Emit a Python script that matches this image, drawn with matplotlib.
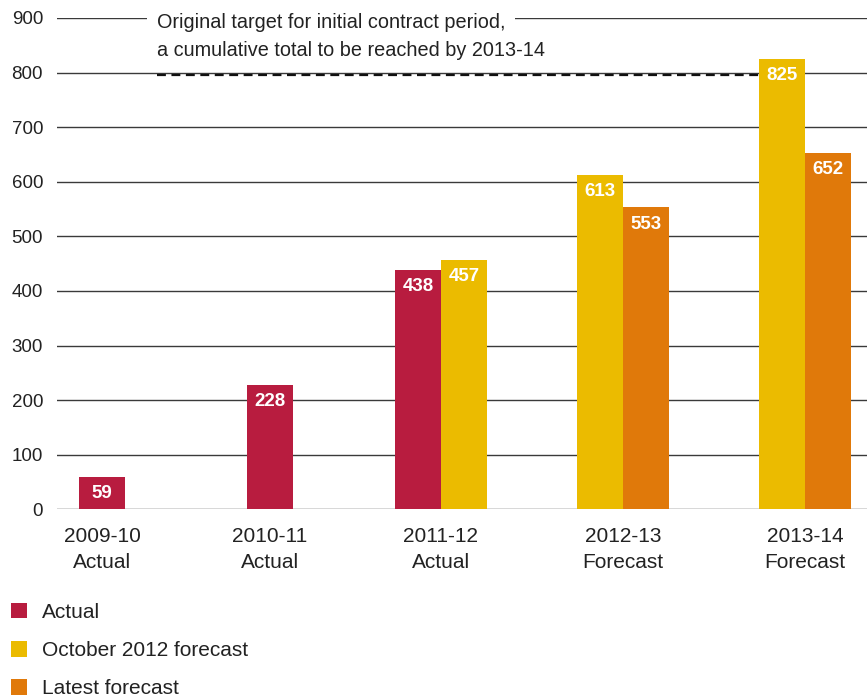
import matplotlib
matplotlib.use("Agg")
import matplotlib.pyplot as plt
from matplotlib.patches import Patch

# Cumulative totals per financial year
years = ["2009-10", "2010-11", "2011-12", "2012-13", "2013-14"]
status = ["Actual", "Actual", "Actual", "Forecast", "Forecast"]
actual = [59, 228, 438, None, None]
oct_2012_forecast = [None, None, 457, 613, 825]
latest_forecast = [None, None, None, 553, 652]
target = 796
target_note = ["Original target for initial contract period,",
               "a cumulative total to be reached by 2013-14"]
y_ticks = [0, 100, 200, 300, 400, 500, 600, 700, 800, 900]

series = [
    ("Actual", actual, "#B81C3F"),
    ("October 2012 forecast", oct_2012_forecast, "#EBBB00"),
    ("Latest forecast", latest_forecast, "#E0790A"),
]

plt.rcParams["font.family"] = ["Liberation Sans", "DejaVu Sans"]
text_col = "#222222"
grid_col = "#3a3a3a"

W, H = 867, 695
fig = plt.figure(figsize=(W / 100, H / 100), dpi=100)
ax = fig.add_axes([57 / W, (H - 509.3) / H, 810 / W, 491.4 / H])

# layout in pixel-like units along x
ax.set_xlim(0, 810)
ax.set_ylim(0, 900)
group_x = [45, 213, 384, 566, 748]
bar_w = 46

for i, gx in enumerate(group_x):
    present = [(name, vals[i], col) for name, vals, col in series if vals[i] is not None]
    n = len(present)
    for k, (name, v, col) in enumerate(present):
        x = gx + (k - (n - 1) / 2) * bar_w
        ax.bar(x, v, width=bar_w, color=col, zorder=3)
        ax.annotate(f"{v}", (x, v), xytext=(0, -12), textcoords="offset points",
                    ha="center", va="center", color="white", fontsize=13.5,
                    fontweight="bold", zorder=4)

# target line and its note (first line blanks out the top gridline)
ax.hlines(target, 100, group_x[4] - bar_w, colors="#111111", linestyles=(0, (4, 2.5)),
          linewidth=1.6, zorder=2)
ax.text(100, 892, target_note[0], ha="left", va="center", fontsize=14.3, color=text_col,
        zorder=5, bbox=dict(boxstyle="square,pad=0.5", facecolor="white", edgecolor="none"))
ax.text(100, 840, target_note[1], ha="left", va="center", fontsize=14.3, color=text_col,
        zorder=5)

ax.set_yticks(y_ticks)
ax.set_yticklabels([str(t) for t in y_ticks], fontsize=13.5, color=text_col)
ax.yaxis.grid(True, color=grid_col, linewidth=1.0, zorder=1)
ax.set_axisbelow(True)
ax.set_xticks(group_x)
ax.set_xticklabels([f"{y}\n{s}" for y, s in zip(years, status)], fontsize=15,
                   color=text_col, linespacing=1.42)
ax.tick_params(axis="both", length=0)
ax.tick_params(axis="y", pad=10)
ax.tick_params(axis="x", pad=13)
for sp in ax.spines.values():
    sp.set_visible(False)

handles = [Patch(facecolor=col, edgecolor="none", label=name) for name, _, col in series]
fig.legend(handles=handles, loc="upper left", bbox_to_anchor=(11 / W, 1 - 603 / H),
           frameon=False, fontsize=15, handlelength=0.75, handleheight=0.75,
           handletextpad=0.75, labelspacing=0.92, borderpad=0, borderaxespad=0,
           labelcolor=text_col)

fig.savefig("out.png", dpi=100)
